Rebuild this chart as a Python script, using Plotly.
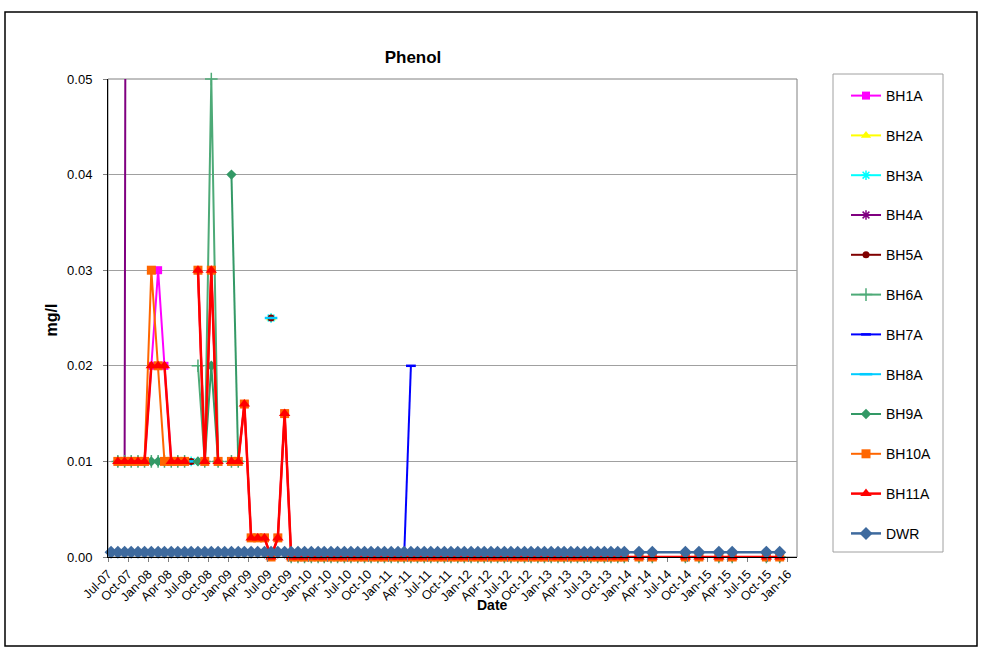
import plotly.graph_objects as go

# ---------------- data ----------------
# monthly sampling Jul-2007 .. Dec-2013, then sparse sampling 2014-2015
dense_dates = [f"{2007 + (6 + k) // 12}-{(6 + k) % 12 + 1:02d}-15" for k in range(78)]
sparse_dates = ["2014-02-20", "2014-04-22", "2014-09-20", "2014-11-21",
                "2015-02-20", "2015-04-22", "2015-09-25", "2015-11-25"]
dates = dense_dates + sparse_dates

N = None
BH1A = ([N, .01, .01, .01, .01, .01, .02, .03, .02, .01, .01, .01, N, .03, .01, .03, .01, N,
         .01, .01, .016, .002, .002, .002, 0.0, .002, .015] + [0.0] * 51 + [0.0] * 8)
BH2A = [N] * 12 + [.01] + [N] * 11 + [.025] + [N] * 61
BH3A = [N] * 12 + [.01] + [N] * 11 + [.025] + [N] * 61
BH4A = [N, .01, .01, .4] + [N] * 23 + [0.0] * 51 + [0.0] * 8
BH5A = [N] * 12 + [.01] + [N] * 11 + [.025] + [N] * 61
BH6A = [N] + [.01] * 11 + [N, .02, .01, .05, .01, N, .01, .01] + [N] * 7 + [0.0] * 51 + [0.0] * 8
BH7A = [N] * 44 + [0.0, 0.02] + [N] * 40
BH8A = [N] * 12 + [.01] + [N] * 11 + [.025] + [N] * 61
BH9A = [N] + [.01] * 11 + [N, .01, .01, .02, .01, N, .04, .01] + [N] * 7 + [0.0] * 51 + [0.0] * 8
BH10A = ([N, .01, .01, .01, .01, .01, .03, .02, .01, .01, .01, .01, N, .03, .01, .03, .01, N,
          .01, .01, .016, .002, .002, .002, 0.0, .002, .015] + [0.0] * 51 + [0.0] * 8)
BH11A = ([N, .01, .01, .01, .01, .01, .02, .02, .02, .01, .01, .01, N, .03, .01, .03, .01, N,
          .01, .01, .016, .002, .002, .002, 0.0, .002, .015] + [0.0] * 51 + [0.0] * 8)
DWR = [0.0005] * 86

series = [
    ("BH1A", BH1A, "#FF00FF", "square", 8, 2),
    ("BH2A", BH2A, "#FFFF00", "triangle-up", 9, 2),
    ("BH3A", BH3A, "#00FFFF", "asterisk-open", 8, 2),
    ("BH4A", BH4A, "#800080", "asterisk-open", 8, 2),
    ("BH5A", BH5A, "#800000", "circle", 7, 2),
    ("BH6A", BH6A, "#4DAA77", "cross-thin-open", 9, 2),
    ("BH7A", BH7A, "#0000FF", "line-ew-open", 7, 2),
    ("BH8A", BH8A, "#00CCFF", "line-ew-open", 9, 2),
    ("BH9A", BH9A, "#339966", "diamond", 8, 2),
    ("BH10A", BH10A, "#FF6600", "square", 9, 2),
    ("BH11A", BH11A, "#FF0000", "triangle-up", 10, 2.5),
    ("DWR", DWR, "#3E6A9E", "diamond", 10, 2.5),
]

fig = go.Figure()
for name, vals, col, sym, size, lw in series:
    open_sym = sym.endswith("-open")
    marker = dict(symbol=sym, size=size, color=col,
                  line=dict(width=(2.5 if "line-ew" in sym else 1.5) if open_sym else 0, color=col))
    fig.add_trace(go.Scatter(
        x=dates, y=vals, name=name, mode="lines+markers",
        line=dict(color=col, width=lw), marker=marker,
        legendgroup=name, cliponaxis=False, connectgaps=False,
    ))

# ---------------- layout ----------------
L, R, T, B = 108, 797, 79, 557
W, H = 985, 648
def px(x):
    return (x - L) / (R - L)
def py(y):
    return (B - y) / (B - T)

font = "Liberation Sans, Arial, sans-serif"

fig.update_layout(
    width=W, height=H,
    margin=dict(l=L, r=W - R, t=T, b=H - B, pad=0),
    paper_bgcolor="white", plot_bgcolor="white",
    font=dict(family=font, size=12, color="black"),
    showlegend=True,
    legend=dict(x=px(846), y=py(80), xanchor="left", yanchor="top",
                bgcolor="rgba(0,0,0,0)", borderwidth=0,
                font=dict(size=14, family=font), tracegroupgap=18.6,
                itemsizing="trace"),
    title=dict(text="<b>Phenol</b>", x=413 / W, y=1 - 57 / H, xanchor="center", yanchor="middle",
               font=dict(size=17, family=font)),
    xaxis=dict(
        type="date", range=["2007-07-01", "2016-02-12"],
        tick0="2007-07-01", dtick="M3", tickformat="%b-%y", tickangle=-45,
        ticks="outside", ticklen=4, tickcolor="#808080",
        showline=True, linecolor="black", linewidth=1,
        showgrid=False, zeroline=False,
        tickfont=dict(size=12.5, family=font),
    ),
    yaxis=dict(
        range=[0, 0.05], dtick=0.01, tickformat=".2f",
        ticks="outside", ticklen=4, tickcolor="#808080",
        showline=True, linecolor="black", linewidth=1,
        showgrid=True, gridcolor="#A0A0A0", gridwidth=1, zeroline=False,
        tickfont=dict(size=13, family=font), ticklabelstandoff=8,
    ),
    annotations=[
        dict(text="<b>mg/l</b>", x=px(40), y=py(320), xref="paper", yref="paper",
             showarrow=False, textangle=-90, font=dict(size=16, family=font)),
        dict(text="<b>Date</b>", x=px(492), y=py(615), xref="paper", yref="paper",
             showarrow=False, font=dict(size=14, family=font)),
    ],
    shapes=[
        # outer chart frame
        dict(type="rect", xref="paper", yref="paper", x0=px(5), x1=px(977), y0=py(646), y1=py(12),
             line=dict(color="black", width=1.5), layer="below"),
        # plot area border
        dict(type="rect", xref="paper", yref="paper", x0=0, x1=1, y0=0, y1=1,
             line=dict(color="#808080", width=1), layer="below"),
        # legend box
        dict(type="rect", xref="paper", yref="paper", x0=px(833), x1=px(943), y0=py(552), y1=py(74),
             line=dict(color="#A0A0A0", width=1), layer="below"),
    ],
)

fig.write_html("out.html")
